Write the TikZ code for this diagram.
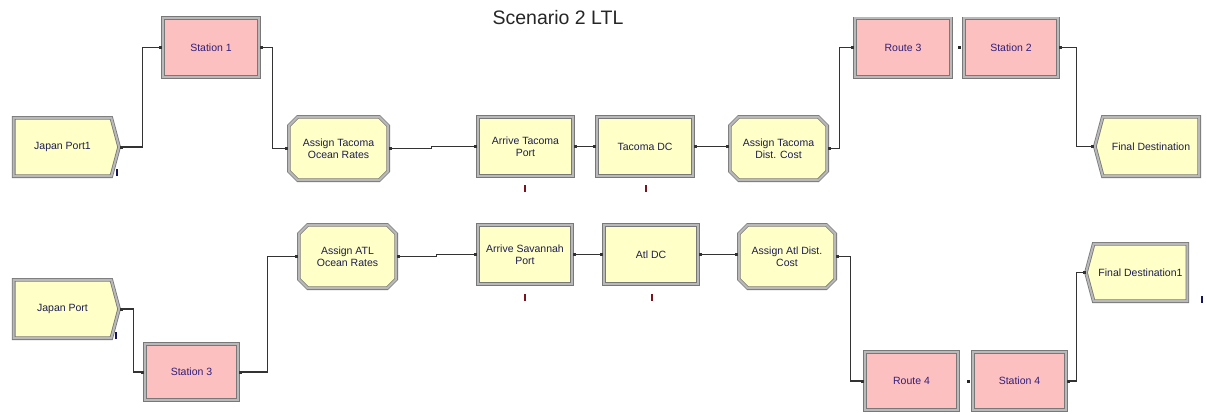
\documentclass[tikz,border=0pt]{standalone}
\usepackage{fontspec}
\setmainfont{Liberation Sans}
\usetikzlibrary{shapes.misc,shapes.symbols,arrows.meta,calc}
\definecolor{modfill}{RGB}{255,255,200}
\definecolor{stafill}{RGB}{252,192,192}
\definecolor{edgegray}{RGB}{120,120,120}
\definecolor{bevelgray}{RGB}{185,185,185}
\definecolor{modtext}{RGB}{30,30,80}
\definecolor{statext}{RGB}{50,30,120}
\definecolor{cntred}{RGB}{120,20,30}
\definecolor{cntblue}{RGB}{20,20,90}
\begin{document}
\begin{tikzpicture}[x=1pt,y=-1pt,
  mod/.style={draw=edgegray, double=bevelgray, double distance=2pt, line width=0.8pt, inner sep=0pt,
    font=\fontsize{10.5}{12}\selectfont, align=center, text=modtext},
  sz/.style 2 args={minimum width=#1pt-3.6pt, minimum height=#2pt-3.6pt},
  proc/.style={mod, rectangle, fill=modfill},
  stn/.style={mod, rectangle, fill=stafill, text=statext},
  asg/.style={mod, chamfered rectangle, chamfered rectangle xsep=4.5pt, chamfered rectangle ysep=4.5pt, fill=modfill},
  crt/.style={mod, signal, signal to=east, signal pointer angle=150, fill=modfill},
  dsp/.style={mod, signal, signal to=west, signal pointer angle=150, fill=modfill},
  conn/.style={draw=black!80, line width=1.1pt, {Square[length=3pt,width=3pt]}-{Square[length=3pt,width=3pt]}},
  cnt/.style={fill=#1, inner sep=0pt, minimum width=2pt, minimum height=7pt},
  dot/.style={fill=black!85, inner sep=0pt, minimum size=3pt}
]
\fill[white] (0,0) rectangle (1207,413);
\useasboundingbox (0,0) rectangle (1207,413);

\node[font=\fontsize{19.5}{22}\selectfont, text=black!85] (title) at (558,17.5) {Scenario 2 LTL};

% top row
\node[crt, sz={109}{62}] (jp1) at (62.5,147) {Japan Port1};
\node[stn, sz={100}{63}] (st1) at (211,47.5) {Station 1};
\node[asg, sz={103}{67}] (asgT) at (338.5,148.5) {Assign Tacoma\\Ocean Rates};
\node[proc, sz={99}{63}] (arrT) at (525.5,146.5) {Arrive Tacoma\\Port};
\node[proc, sz={100}{63}] (tacDC) at (645,146.5) {Tacoma DC};
\node[asg, sz={101}{67}] (asgTD) at (778.5,148.5) {Assign Tacoma\\Dist. Cost};
\node[stn, sz={100}{62}] (rt3) at (903,47.5) {Route 3};
\node[stn, sz={98}{62}] (st2) at (1011,47.5) {Station 2};
\node[dsp, sz={108}{63}] (fd) at (1151,146.5) {Final Destination};

% bottom row
\node[crt, sz={109}{62}] (jp) at (62.5,309) {Japan Port};
\node[stn, sz={97}{60}] (st3) at (191.5,372) {Station 3};
\node[asg, sz={101}{67}] (asgA) at (347.5,256.5) {Assign ATL\\Ocean Rates};
\node[proc, sz={98}{63}] (arrS) at (525,254.5) {Arrive Savannah\\Port};
\node[proc, sz={98}{63}] (atlDC) at (651,254.5) {Atl DC};
\node[asg, sz={100}{67}] (asgAD) at (787,256.5) {Assign Atl Dist.\\Cost};
\node[stn, sz={97}{62}] (rt4) at (911.5,381) {Route 4};
\node[stn, sz={97}{62}] (st4) at (1019.5,381) {Station 4};
\node[dsp, sz={105}{61}] (fd1) at (1140.5,272.5) {Final Destination1};

% counters
\node[cnt=cntblue] (c1) at (117,172) {};
\node[cnt=cntblue] (c2) at (116,335) {};
\node[cnt=cntblue] (c3) at (1202,299) {};
\node[cnt=cntred] (c4) at (525,188) {};
\node[cnt=cntred] (c5) at (646,188) {};
\node[cnt=cntred] (c6) at (525,297) {};
\node[cnt=cntred] (c7) at (652,297) {};

% entry dots of stations after routes
\node[dot] (d1) at ($(st2.west)+(-4,0)$) {};
\node[dot] (d2) at ($(st4.west)+(-4,0)$) {};

% connectors top
\draw[conn] (jp1.east) -- ++(23,0) |- (st1.west);
\draw[conn] (st1.east) -- ++(13,0) |- (asgT.west);
\draw[conn] (asgT.east) -- ++(43,0) |- (arrT.west);
\draw[conn] (arrT.east) -- (tacDC.west);
\draw[conn] (tacDC.east) -- (tacDC.east -| asgTD.west);
\draw[conn] (asgTD.east) -- ++(12,0) |- (rt3.west);
\draw[conn] (st2.east) -- ++(18,0) |- (fd.west);

% connectors bottom
\draw[conn] (jp.east) -- ++(14,0) |- (st3.west);
\draw[conn] (st3.east) -- ++(29,0) |- (asgA.west);
\draw[conn] (asgA.east) -- ++(40,0) |- (arrS.west);
\draw[conn] (arrS.east) -- (atlDC.west);
\draw[conn] (atlDC.east) -- (atlDC.east -| asgAD.west);
\draw[conn] (asgAD.east) -- ++(15,0) |- (rt4.west);
\draw[conn] (st4.east) -- ++(10,0) |- (fd1.west);
\end{tikzpicture}
\end{document}
